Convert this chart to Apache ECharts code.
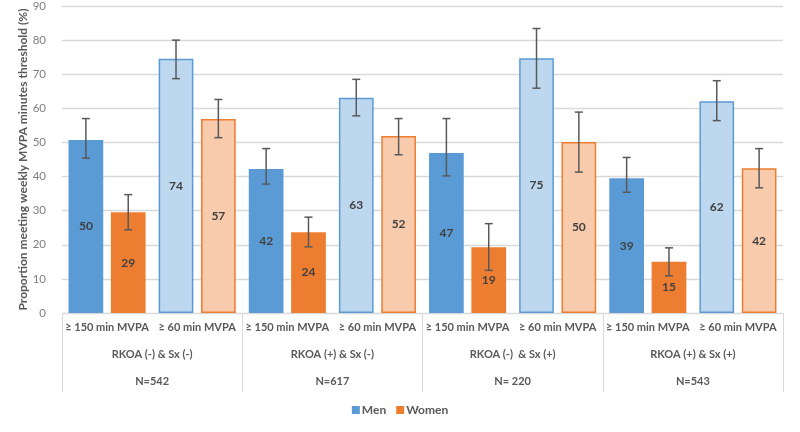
<!DOCTYPE html>
<html>
<head>
<meta charset="utf-8">
<script src="https://cdn.jsdelivr.net/npm/echarts@6/dist/echarts.min.js"></script>
<style>
html,body{margin:0;padding:0;background:#fff;}
#chart{width:800px;height:432px;}
</style>
</head>
<body>
<div id="chart"></div>
<script>
// ---- data ----
var categories = ['≥ 150 min MVPA', '≥ 60 min MVPA', '≥ 150 min MVPA', '≥ 60 min MVPA',
                  '≥ 150 min MVPA', '≥ 60 min MVPA', '≥ 150 min MVPA', '≥ 60 min MVPA'];
var groups = ['RKOA (-) & Sx (-)', 'RKOA (+) & Sx (-)', 'RKOA (-)  & Sx (+)', 'RKOA (+) & Sx (+)'];
var groupN = ['N=542', 'N=617', 'N= 220', 'N=543'];
var seriesNames = ['Men', 'Women'];

var menValues = [50.7, 74.5, 42.2, 63.1, 46.9, 74.7, 39.5, 62.1];
var menLabels = [50, 74, 42, 63, 47, 75, 39, 62];
var menLow    = [45.4, 68.7, 37.8, 57.8, 40.2, 65.9, 35.4, 56.4];
var menHigh   = [57.0, 80.0, 48.2, 68.5, 57.0, 83.4, 45.6, 68.1];

var womenValues = [29.5, 56.9, 23.7, 51.9, 19.3, 50.1, 15.0, 42.4];
var womenLabels = [29, 57, 24, 52, 19, 50, 15, 42];
var womenLow    = [24.4, 51.4, 19.4, 46.4, 12.5, 41.3, 10.9, 36.7];
var womenHigh   = [34.7, 62.6, 28.1, 57.0, 26.2, 58.9, 19.1, 48.2];

var yTicks = [0, 10, 20, 30, 40, 50, 60, 70, 80, 90];

// ---- styles ----
var FONT = 'Lato, "Open Sans", sans-serif';
var dark = {Men: '#5B9BD5', Women: '#ED7D31'};
var light = {Men: '#BDD7EE', Women: '#F8CBAD'};
var CAT_GAP = 0.145, BAR_GAP = 0.22;

function barData(name, vals, labels) {
  return vals.map(function (v, i) {
    var isLight = (i % 2 === 1);
    return {
      value: v,
      lbl: labels[i],
      itemStyle: isLight
        ? {color: light[name], borderColor: dark[name], borderWidth: 1.5}
        : {color: dark[name], borderWidth: 0}
    };
  });
}

function errSeries(sign, low, high) {
  return {
    type: 'custom',
    silent: true,
    z: 5,
    data: low.map(function (l, i) { return [i, l, high[i]]; }),
    renderItem: function (params, api) {
      var idx = api.value(0);
      var band = api.size([1, 0])[0];
      var bw = band * (1 - CAT_GAP) / (2 + BAR_GAP);
      var off = sign * bw * (1 + BAR_GAP) / 2;
      var pLow = api.coord([idx, api.value(1)]);
      var pHigh = api.coord([idx, api.value(2)]);
      var x = pLow[0] + off;
      var cap = 4;
      var st = {stroke: '#595959', lineWidth: 1.5};
      return {
        type: 'group',
        children: [
          {type: 'line', shape: {x1: x, y1: pLow[1], x2: x, y2: pHigh[1]}, style: st},
          {type: 'line', shape: {x1: x - cap, y1: pLow[1], x2: x + cap, y2: pLow[1]}, style: st},
          {type: 'line', shape: {x1: x - cap, y1: pHigh[1], x2: x + cap, y2: pHigh[1]}, style: st}
        ]
      };
    }
  };
}

var chart = echarts.init(document.getElementById('chart'));
chart.setOption({
  backgroundColor: '#ffffff',
  animation: false,
  textStyle: {fontFamily: FONT},
  grid: {left: 62, right: 17, top: 4, bottom: 119, containLabel: false},
  legend: {
    data: seriesNames,
    bottom: 11,
    left: 'center',
    itemWidth: 8, itemHeight: 8, itemGap: 10,
    icon: 'rect',
    textStyle: {fontFamily: FONT, fontSize: 12, fontWeight: 'bold', color: '#595959', padding: [0, 0, 0, -3]}
  },
  xAxis: [
    {
      type: 'category',
      data: categories,
      position: 'bottom',
      axisLine: {show: true, onZero: false, lineStyle: {color: '#d9d9d9', width: 1}},
      axisTick: {show: false},
      axisLabel: {interval: 0, margin: 9, fontFamily: FONT, fontSize: 11, fontWeight: 'bold', color: '#595959'}
    },
    {
      type: 'category',
      data: groups,
      position: 'bottom',
      axisLine: {show: false, onZero: false},
      axisTick: {show: true, interval: 0, length: 79, lineStyle: {color: '#d9d9d9', width: 1}},
      axisLabel: {
        interval: 0, margin: 28,
        formatter: function (v, i) { return v + '\n' + groupN[i]; },
        fontFamily: FONT, fontSize: 11, fontWeight: 'bold', color: '#595959', lineHeight: 27
      }
    }
  ],
  yAxis: {
    type: 'value',
    min: yTicks[0], max: yTicks[yTicks.length - 1], interval: 10,
    name: 'Proportion meeting weekly MVPA minutes threshold (%)',
    nameLocation: 'middle',
    nameGap: 33,
    nameMoveOverlap: false,
    nameTextStyle: {fontFamily: FONT, fontSize: 12, fontWeight: 'bold', color: '#595959'},
    axisLine: {show: false},
    axisTick: {show: false},
    axisLabel: {margin: 16, fontFamily: FONT, fontSize: 11.5, color: '#7f7f7f'},
    splitLine: {lineStyle: {color: '#d9d9d9', width: 1.3}}
  },
  series: [
    {
      name: 'Men', type: 'bar', xAxisIndex: 0,
      barGap: (BAR_GAP * 100) + '%', barCategoryGap: (CAT_GAP * 100) + '%',
      itemStyle: {color: dark.Men},
      data: barData('Men', menValues, menLabels),
      label: {
        show: true, position: 'inside',
        formatter: function (p) { return p.data.lbl; },
        fontFamily: FONT, fontSize: 12, fontWeight: 'bold', color: '#404040'
      }
    },
    {
      name: 'Women', type: 'bar', xAxisIndex: 0,
      barGap: (BAR_GAP * 100) + '%', barCategoryGap: (CAT_GAP * 100) + '%',
      itemStyle: {color: dark.Women},
      data: barData('Women', womenValues, womenLabels),
      label: {
        show: true, position: 'inside',
        formatter: function (p) { return p.data.lbl; },
        fontFamily: FONT, fontSize: 12, fontWeight: 'bold', color: '#404040'
      }
    },
    errSeries(-1, menLow, menHigh),
    errSeries(1, womenLow, womenHigh)
  ]
});
</script>
</body>
</html>
